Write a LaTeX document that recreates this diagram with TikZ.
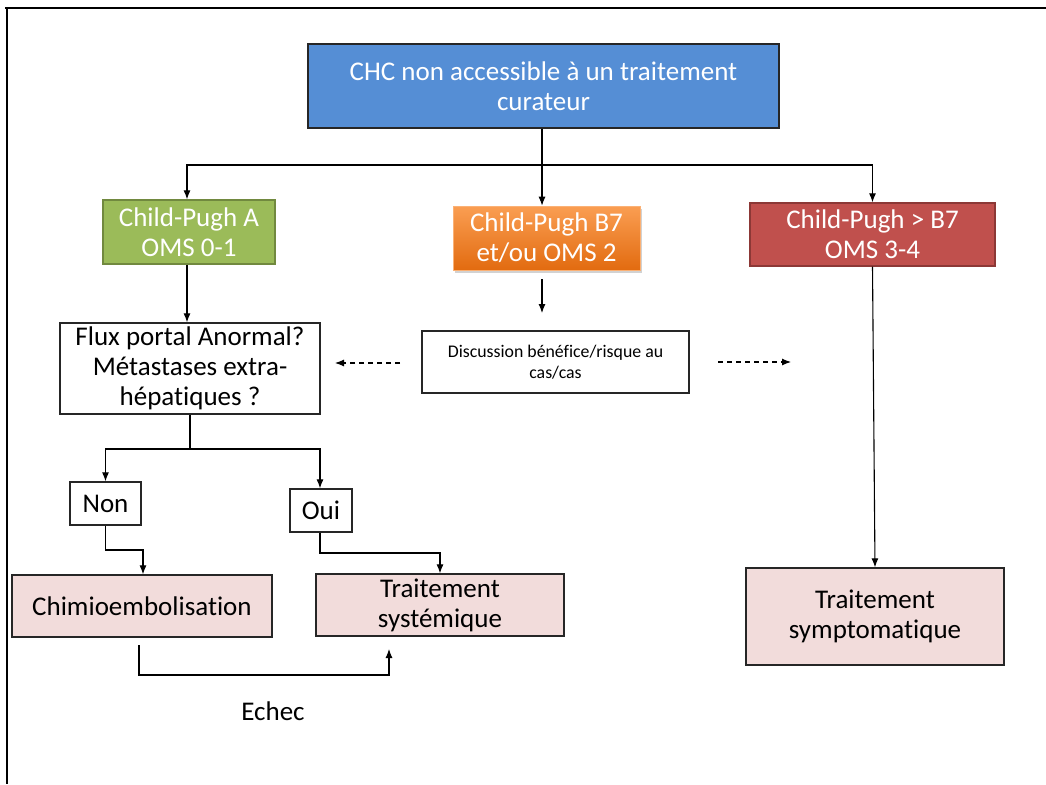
\documentclass[tikz,border=0pt]{standalone}
\usepackage{fontspec}
\setmainfont{Carlito}[Ligatures=NoCommon]
\usetikzlibrary{arrows.meta,shadows}
\definecolor{topblue}{HTML}{558ED5}
\definecolor{greenfill}{HTML}{9BBB59}
\definecolor{greenborder}{HTML}{71893F}
\definecolor{orangetop}{HTML}{FA9E52}
\definecolor{orangebot}{HTML}{E26B10}
\definecolor{redfill}{HTML}{C0504D}
\definecolor{redborder}{HTML}{8C3836}
\definecolor{pinkfill}{HTML}{F2DCDB}
\definecolor{boxborder}{HTML}{262626}
\tikzset{
  box/.style={draw=boxborder, line width=1.3pt, rectangle, align=center, inner sep=0pt},
  bigtxt/.style={font=\fontsize{27}{30}\selectfont},
  smalltxt/.style={font=\fontsize{17.8}{21.5}\selectfont},
  conn/.style={draw=black, line width=1.1pt, -{Latex[length=9pt,width=7pt]}},
  dashconn/.style={draw=black, line width=1.1pt, dash pattern=on 5pt off 4pt, -{Latex[length=9pt,width=7pt]}},
  plainline/.style={draw=black, line width=1.1pt},
}
\begin{document}
\begin{tikzpicture}[x=1pt,y=-1pt]
\useasboundingbox (0,0) rectangle (1046,784);
\fill[white] (0,0) rectangle (1046,784);
% frame (top and left only)
\draw[line width=1.2pt] (5,8) -- (1046,8);
\draw[line width=1.2pt] (7,8) -- (7,784);

% nodes
\node[box, bigtxt, fill=topblue, text=white, minimum width=471pt, minimum height=84pt] (top) at (543.5,86) {CHC non accessible à un traitement\\curateur};
\node[box, bigtxt, fill=greenfill, draw=greenborder, text=white, minimum width=172pt, minimum height=64pt] (green) at (189,232) {Child-Pugh A\\OMS 0-1};
\node[box, bigtxt, top color=orangetop, bottom color=orangebot, draw=orangetop!80!white, line width=0.6pt, text=white, minimum width=187pt, minimum height=64pt, drop shadow={shadow xshift=2pt, shadow yshift=-3pt, opacity=0.35}] (orange) at (546.5,238) {Child-Pugh B7\\et/ou OMS 2};
\node[box, bigtxt, fill=redfill, draw=redborder, text=white, minimum width=245pt, minimum height=63pt] (red) at (872.5,234.5) {Child-Pugh > B7\\OMS 3-4};
\node[box, bigtxt, fill=white, minimum width=260pt, minimum height=91pt] (flux) at (190,368.5) {Flux portal Anormal?\\Métastases extra-\\hépatiques ?};
\node[box, smalltxt, fill=white, minimum width=267pt, minimum height=62pt] (disc) at (555.5,362) {Discussion bénéfice/risque au\\cas/cas};
\node[box, bigtxt, fill=white, minimum width=71pt, minimum height=43pt] (non) at (105.5,503.5) {Non};
\node[box, bigtxt, fill=white, minimum width=62pt, minimum height=43pt] (oui) at (321,510.5) {Oui};
\node[box, bigtxt, fill=pinkfill, minimum width=260pt, minimum height=62pt] (chimio) at (142,606) {Chimioembolisation};
\node[box, bigtxt, fill=pinkfill, minimum width=248pt, minimum height=62pt] (syst) at (440,605) {Traitement\\systémique};
\node[box, bigtxt, fill=pinkfill, minimum width=258pt, minimum height=97pt] (sympt) at (875,616.5) {Traitement\\symptomatique};
\node[bigtxt] (echec) at (273,711) {Echec};

% coordinates
\coordinate (split) at (542,165);
\coordinate (xg) at (187,0);
\coordinate (ostart) at (542,279);
\coordinate (oend) at (542,313);
\coordinate (fsplit) at (190,449);
\coordinate (xoui) at (320,0);
\coordinate (xch) at (143,0);
\coordinate (dl1) at (400,363);
\coordinate (dl2) at (335,363);
\coordinate (dr1) at (718,362);
\coordinate (dr2) at (791,362);
\coordinate (nbend) at (106,550);
\coordinate (obend) at (320,553);
\coordinate (e1) at (139,645);
\coordinate (e2) at (139,675);
\coordinate (e3) at (389,675);
\coordinate (e4) at (389,649);

% connectors
\draw[plainline] (top.south -| split) -- (split);
\draw[conn] (split) -| (green.north -| xg);
\draw[conn] (split) -- (orange.north -| split);
\draw[conn] (split) -| (red.north);
\draw[conn] (green.south -| xg) -- (flux.north -| xg);
\draw[conn] (ostart) -- (oend);
\draw[dashconn] (dl1) -- (dl2);
\draw[dashconn] (dr1) -- (dr2);
\draw[plainline] (flux.south -| fsplit) -- (fsplit);
\draw[conn] (fsplit) -| (non.north);
\draw[conn] (fsplit) -| (oui.north -| xoui);
\draw[conn] (non.south) |- (nbend) -| (chimio.north -| xch);
\draw[conn] (oui.south -| obend) -- (obend) -| (syst.north);
\draw[conn] (e1) -- (e2) -- (e3) -- (e4);
\draw[conn] (red.south) -- (sympt.north);
\end{tikzpicture}
\end{document}
